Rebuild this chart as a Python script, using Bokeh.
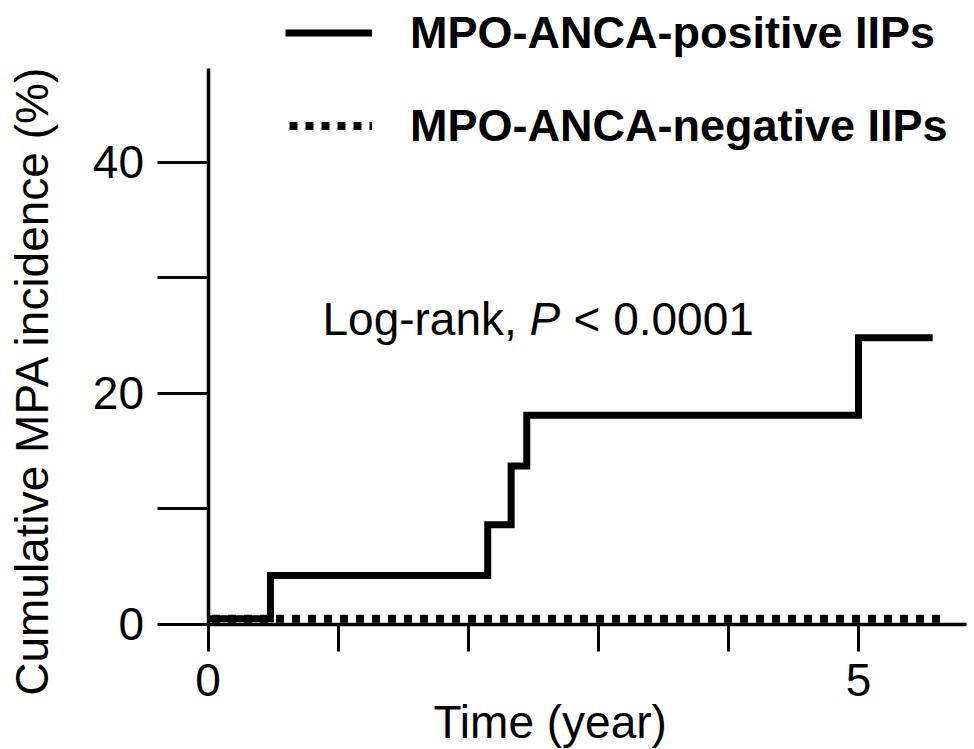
import math
from bokeh.plotting import figure
from bokeh.models import Range1d, FixedTicker, Legend, LegendItem, Label
from bokeh.embed import file_html
from bokeh.resources import INLINE

# ---- data ----
pos_time = [0.0, 0.48, 2.15, 2.33, 2.45, 5.0, 5.57]
pos_inc = [0.45, 4.2, 8.6, 13.7, 18.1, 24.8, 24.8]
neg_time = [0.0, 5.67]
neg_inc = [0.45, 0.45]

x_major = [0, 5]
x_minor = [1, 2, 3, 4]
y_major = [0, 20, 40]
y_minor = [10, 30]
x_axis_end = 5.83
y_axis_end = 48.1

series_labels = ["MPO-ANCA-positive IIPs", "MPO-ANCA-negative IIPs"]
x_title = "Time (year)"
y_title = "Cumulative MPA incidence (%)"
stat_text = ["Log-rank,", "P", "< 0.0001"]

FONT = "Liberation Sans"
FS = "46px"

W, H = 974, 749
# data -> pixel layout: x=0 at px 207.5 (130.1 px / year); y=0 at px 623.5 (11.54 px / %)
X0, XS = 207.5, 130.1
Y0, YS = 623.5, 11.54

p = figure(width=W, height=H, output_backend="svg", toolbar_location=None,
           x_range=Range1d(-X0 / XS, (W - X0) / XS),
           y_range=Range1d(-(H - Y0) / YS, Y0 / YS),
           min_border_left=0, min_border_right=0, min_border_top=0,
           min_border_bottom=0)
p.outline_line_color = None
p.xgrid.visible = False
p.ygrid.visible = False
p.background_fill_color = "white"
p.border_fill_color = "white"

# axes (drawn at data 0, so they take no side space)
for ax, major, minor, tick_len, bounds in (
        (p.xaxis[0], x_major, x_minor, 27, (0, x_axis_end)),
        (p.yaxis[0], y_major, y_minor, 51, (0, y_axis_end))):
    ax.fixed_location = 0
    ax.bounds = bounds
    ax.ticker = FixedTicker(ticks=major, minor_ticks=minor)
    ax.axis_line_width = 3.5
    ax.axis_line_color = "black"
    ax.major_tick_in = 0
    ax.major_tick_out = tick_len
    ax.minor_tick_in = 0
    ax.minor_tick_out = tick_len
    ax.major_tick_line_width = 3
    ax.minor_tick_line_width = 3
    ax.major_tick_line_color = "black"
    ax.minor_tick_line_color = "black"
    ax.major_label_text_font = FONT
    ax.major_label_text_font_size = FS
    ax.major_label_text_color = "black"
    ax.axis_label = None

p.xaxis[0].major_label_standoff = 13
p.yaxis[0].major_label_standoff = 13

# curves
r_pos = p.step(pos_time, pos_inc, mode="after", line_width=7, line_color="black",
               line_join="miter")
r_neg = p.line(neg_time, neg_inc, line_width=8, line_color="black",
               line_dash="8 8", line_dash_offset=12)

# legend
legend = Legend(items=[LegendItem(label=series_labels[0], renderers=[r_pos]),
                       LegendItem(label=series_labels[1], renderers=[r_neg])],
                location=(285, 597), orientation="vertical",
                label_text_font=FONT, label_text_font_size="45px",
                label_text_font_style="bold", label_text_color="black",
                glyph_width=87, glyph_height=53, label_height=53,
                label_standoff=38, spacing=40, padding=0, margin=0,
                border_line_color=None, background_fill_alpha=0)
p.add_layout(legend)

# axis titles
p.add_layout(Label(x=2.63, y=-8.5, text=x_title, text_align="center",
                   text_baseline="alphabetic", text_font=FONT, text_font_size=FS,
                   text_color="black"))
p.add_layout(Label(x=-1.35, y=21.1, text=y_title, text_align="center",
                   text_baseline="alphabetic", angle=math.pi / 2,
                   text_font=FONT, text_font_size=FS, text_color="black"))

# statistic annotation
for txt, off, style in zip(stat_text, [0, 207, 251], ["normal", "italic", "normal"]):
    p.add_layout(Label(x=0.88, y=26.4, x_offset=off, text=txt,
                       text_align="left", text_baseline="alphabetic",
                       text_font=FONT, text_font_size=FS,
                       text_font_style=style, text_color="black"))

open("out.html", "w").write(file_html(p, INLINE))
